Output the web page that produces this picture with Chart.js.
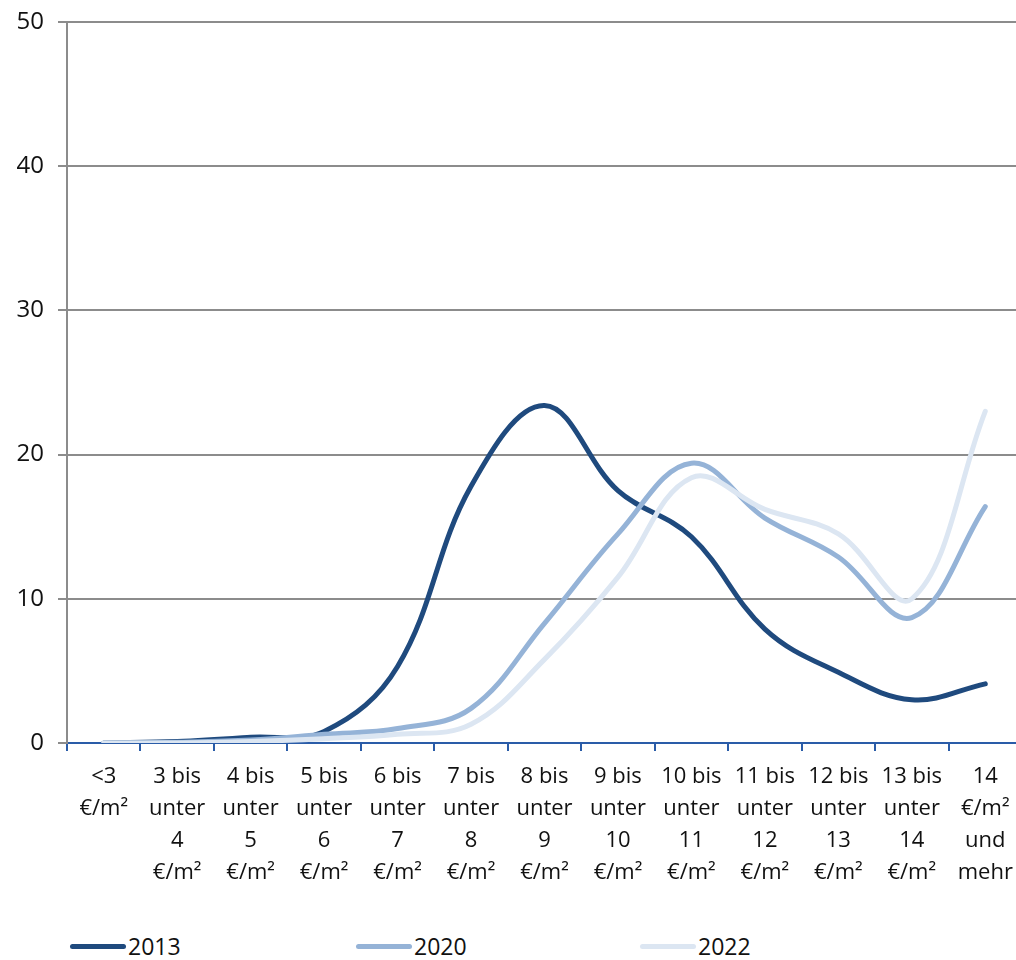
<!DOCTYPE html>
<html>
<head>
<meta charset="utf-8">
<script src="https://cdn.jsdelivr.net/npm/chart.js@4/dist/chart.umd.min.js"></script>
<style>
  html, body { margin: 0; padding: 0; background: #fff; overflow: hidden; }
  #wrap { position: relative; width: 1030px; height: 960px; }
  #legend { position: absolute; top: 930px; left: 0; width: 1016px; height: 30px;
            font-family: "Open Sans", "Noto Sans", sans-serif; font-size: 23px; color: #111; }
  .item { position: absolute; top: 0; display: flex; align-items: center; }
  .swatch { width: 56px; height: 5px; border-radius: 3px; margin-right: 2px; }
</style>
</head>
<body>
<div id="wrap">
  <canvas id="myChart" width="1030" height="900"></canvas>
  <div id="legend"></div>
</div>
<script>
var categories = [
  ["<3", "€/m²"],
  ["3 bis", "unter", "4", "€/m²"],
  ["4 bis", "unter", "5", "€/m²"],
  ["5 bis", "unter", "6", "€/m²"],
  ["6 bis", "unter", "7", "€/m²"],
  ["7 bis", "unter", "8", "€/m²"],
  ["8 bis", "unter", "9", "€/m²"],
  ["9 bis", "unter", "10", "€/m²"],
  ["10 bis", "unter", "11", "€/m²"],
  ["11 bis", "unter", "12", "€/m²"],
  ["12 bis", "unter", "13", "€/m²"],
  ["13 bis", "unter", "14", "€/m²"],
  ["14", "€/m²", "und", "mehr"]
];
var seriesNames = ["2013", "2020", "2022"];
var values2013 = [0, 0.1, 0.4, 0.8, 5.3, 17.8, 23.4, 17.5, 14.3, 7.9, 4.9, 3.0, 4.1];
var values2020 = [0, 0.05, 0.2, 0.6, 1.0, 2.4, 8.3, 14.5, 19.4, 15.6, 12.9, 8.7, 16.4];
var values2022 = [0, 0, 0.1, 0.3, 0.6, 1.3, 5.8, 11.5, 18.4, 16.2, 14.5, 10.0, 23.0];
var yTicks = [0, 10, 20, 30, 40, 50];
var lineColors = ["#1f4a7e", "#95b3d7", "#dce6f2"];

var fontFamily = '"Open Sans", "Noto Sans", sans-serif';

function makeSet(name, data, color, order) {
  return {
    label: name,
    data: data,
    borderColor: color,
    backgroundColor: color,
    borderWidth: 5,
    borderCapStyle: "round",
    pointRadius: 0,
    tension: 0.38,
    fill: false,
    order: order
  };
}

var chartContext = document.getElementById("myChart").getContext("2d");
var chart = new Chart(chartContext, {
  type: "line",
  data: {
    labels: categories,
    datasets: [
      makeSet(seriesNames[0], values2013, lineColors[0], 3),
      makeSet(seriesNames[1], values2020, lineColors[1], 2),
      makeSet(seriesNames[2], values2022, lineColors[2], 1)
    ]
  },
  options: {
    responsive: false,
    animation: false,
    layout: { padding: { top: 22, right: 8, left: 0, bottom: 0 } },
    plugins: { legend: { display: false }, tooltip: { enabled: false } },
    scales: {
      x: {
        offset: true,
        border: { color: "#2a5ca8", width: 2 },
        grid: {
          offset: true,
          drawOnChartArea: false,
          drawTicks: true,
          tickLength: 8,
          color: "#2a5ca8",
          lineWidth: 2
        },
        ticks: {
          autoSkip: false,
          maxRotation: 0,
          minRotation: 0,
          padding: 10,
          color: "#111",
          font: { family: fontFamily, size: 22, lineHeight: 1.45 }
        },
        afterFit: function (scale) { scale.height = 157; }
      },
      y: {
        min: 0,
        max: 50,
        afterBuildTicks: function (scale) {
          scale.ticks = yTicks.map(function (v) { return { value: v }; });
        },
        border: { color: "#8c8c8c", width: 2 },
        grid: { color: "#8c8c8c", lineWidth: 2, tickLength: 9 },
        ticks: {
          padding: 14,
          color: "#111",
          font: { family: fontFamily, size: 24 }
        },
        afterFit: function (scale) {
          scale.width = 67;
          scale.paddingTop = 0;
          scale.paddingBottom = 0;
        }
      }
    }
  }
});

var legend = document.getElementById("legend");
var legendLeft = [70, 356, 640];
seriesNames.forEach(function (name, i) {
  var item = document.createElement("div");
  item.className = "item";
  item.style.left = legendLeft[i] + "px";
  var sw = document.createElement("span");
  sw.className = "swatch";
  sw.style.background = lineColors[i];
  var tx = document.createElement("span");
  tx.textContent = name;
  item.appendChild(sw);
  item.appendChild(tx);
  legend.appendChild(item);
});
</script>
</body>
</html>
